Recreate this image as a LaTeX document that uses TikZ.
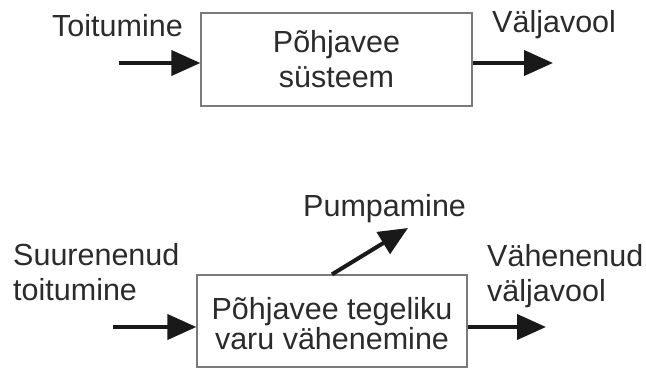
\documentclass[tikz,border=0pt]{standalone}
\usepackage{fontspec}
\setmainfont{Liberation Sans}
\usetikzlibrary{arrows.meta}
\definecolor{txtgray}{HTML}{2B2B2B}
\definecolor{boxgray}{HTML}{7A7A7A}
\tikzset{
block/.style={shape=rectangle, draw=boxgray, line width=1.3pt, inner sep=0pt, align=center, text=txtgray},
lbl/.style={inner sep=0pt, align=left, text=txtgray, font=\fontsize{30.5}{35}\selectfont},
flow/.style={line width=4pt, draw=black!90, -{Triangle[length=29pt, width=25pt]}}
}
\begin{document}
\begin{tikzpicture}[x=1pt, y=-1pt]
\useasboundingbox (0,0) rectangle (646,369);
\node[block, font=\fontsize{30.5}{35}\selectfont, minimum width=271pt, minimum height=93pt](box1) at (336.5,59.5) {Põhjavee\\süsteem};
\node[lbl, anchor=base west](in1lbl) at (52,37) {Toitumine};
\node[lbl, anchor=base west](out1lbl) at (492,33) {Väljavool};
\coordinate (in1) at (119,63);
\coordinate (out1) at (553,63);
\draw[flow] (in1) -- (in1 -| box1.west);
\draw[flow] (box1.east |- out1) -- (out1);
\node[block, font=\fontsize{30.5}{30}\selectfont, text height=58pt, minimum width=270pt, minimum height=92pt](box2) at (332,321) {Põhjavee tegeliku\\varu vähenemine};
\node[lbl, anchor=north west](in2lbl) at (13,243) {Suurenenud\\toitumine};
\node[lbl, anchor=north west](out2lbl) at (487,244.5) {Vähenenud\\väljavool};
\node[lbl, anchor=base west](pumplbl) at (303,216) {Pumpamine};
\coordinate (in2) at (113,327);
\coordinate (out2) at (546,327);
\coordinate (pump) at (408,228);
\draw[flow] (in2) -- (in2 -| box2.west);
\draw[flow] (box2.east |- out2) -- (out2);
\draw[flow] (box2.north) -- (pump);
\end{tikzpicture}
\end{document}
